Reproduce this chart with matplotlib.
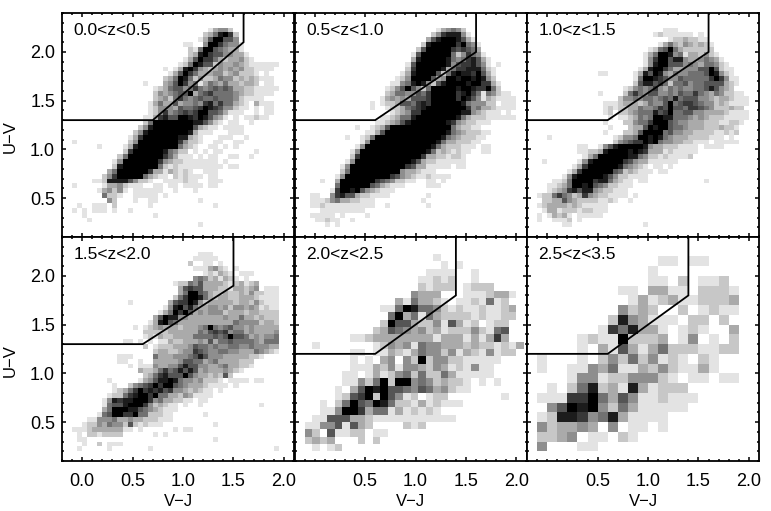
import matplotlib
matplotlib.use('Agg')
import matplotlib.pyplot as plt
import numpy as np
from matplotlib.ticker import MultipleLocator

plt.rcParams['font.family'] = ['Liberation Sans', 'DejaVu Sans']

# grey level of every histogram cell, 0 = empty .. 9 = black, top row first
rows_z00 = [
    "", "", "",
    ".............................13442",
    "............................2358972",
    "...........................13699664",
    "........................11..49975441",
    ".........................21599654331",
    ".........................238976644331",
    "........................13697753233421",
    ".......................12598662433432111111",
    "....................1.13897432343434221111",
    ".....................136975333442342221.1",
    "....................2359852422354423232111",
    "................1...3469745135435332332.11",
    "..................1235664575456565332211111",
    "..................243456693567555543221111",
    "..................2342575456556555421111",
    ".................13533634454785755321.3111",
    ".................12444365567987644211.1.11",
    ".................1247456767996653111..1.11",
    "................11378669987986431.1.11211",
    "................2599999999886421.11..1",
    "...............2489999999963211.1111",
    "..............2489999999983111...111",
    ".............137999999988321...111..1",
    "..1..........249999999974221..11..11",
    ".......1....138999999995321..11.1.1",
    "............2799999985422.1.1.11......1",
    "...........259999999753111.1.11..11..1",
    "..........14999999974322111111 1.1",
    "..........2899999995212111111111.11",
    ".........35999999733132121..111",
    "........2479999953211.212111.11",
    "......112888864221..1111211..111",
    "..1.....13342111..11.11.1111.11",
    ".......134241.111111..1...1",
    "........5221..11111.1",
    ".........42...1..11........1",
    "...1..111.2......1............1",
    "..1.1.111.1..1",
    "....1.............1",
    ".....1",
    "...........................1",
]

rows_z05 = [
    "", "", "",
    "............................134542",
    "...........................24788841",
    "..........................3689998631",
    ".........................289999979541",
    "........................2699999767653",
    ".......................169999995247541",
    ".......................3899999854578631",
    "......................16999999846778641.1",
    "......................279999983577888521",
    ".....................1389999625898879631",
    "....................12499996349989989842",
    "...................1145898426899998997731",
    "..................12469642599999899877952",
    "..................2355446579999978975154211",
    ".................134343666799999798641321111",
    "...............1.12236657879999998544422.111",
    "...............1..12235678999999997453321111",
    "...................1234779999999988432111.1",
    ".................112355899999999853222111111",
    "................11234689999999874322111",
    "............1..1236999999999999532211",
    "..............11369999999999998 54322211",
    "..........1..125999999999999 9854322211",
    ".............149999999999999853322211",
    "............149999999999999853222111.11",
    "...........149999999999999852321211..11",
    "...........27999999999999733221221",
    "..........149999999999986322111111",
    ".........1499999999999763311111.11",
    ".........2599999999994332111",
    "........14999999999764321121111",
    ".....1..399999997654 2211..11.1",
    "........59999996532111....111",
    ".......17998964321 11",
    "...11..47866322111 1.......1",
    "...11124533221 11.........1",
    "...11211111111 11..1.......1",
    ".....111111111",
    "...11111.1....1",
    "....11211..1",
    "......1.1",
]

rows_z10 = [
    "", "", "",
    "...........................111",
    ".........................12111111.1",
    "............................12232211",
    "..........................13532432321",
    "........................1256953222222",
    ".......................135998451332421",
    ".......................1479968843345431",
    ".......................14899666454355421",
    "......................1389975334446696211",
    "..............11.....13869843544555698421",
    ".....................159987644655555797411",
    ".....................268867525564556666321",
    "...................1245457435454455686432",
    "..............1....257546644546557543542211",
    "..................24454554565856664432332111",
    "...............11123332354469567765442321111",
    "...............1212233544576966577654222322",
    "...............12.22345558679556644333321111",
    "................1.11235459988555434322211111",
    "...............1...224557999654433322211221",
    "................1...2336989965543332223221",
    "...............1...22369999564433222211212",
    "....1............1244599898543332222111.1",
    ".................2456779895443322111.11111",
    "..........11..14689999984332221111.1111",
    "..........112238999989873331211111",
    "...........1359999998854221211112",
    "...1......14899999976433111111",
    ".........137999999854321.11.1",
    "........13799999965232111.11",
    ".......14899999864221111",
    ".....11259999788532 11.11...........1",
    "....11235998965422111",
    "....1234786884322111",
    "..122575423743221111.1",
    "...223364322221121..1",
    "..12333323211111",
    "...1331222122111",
    "..1.13231.11111",
    "..1..1112.1",
    ".......11..............1",
]

rows_z15 = [
    "", "", "",
    "...........................111",
    "..........................11111",
    ".........................2..11.1",
    "..........................1113421.1",
    "............................121321.111",
    "..........................454231321.1",
    "......................12254633332123123",
    ".......................3676633322133234.111",
    ".......................35996532232232422111",
    "......................257998532332233321111",
    ".............1.......3677984233333233242111",
    "....................14896853344342443431211",
    "...................135979634344423332332222",
    "..................3698844333333343353323222",
    ".................13896533333333333544442332",
    "..............1.123433323334595456443433333",
    "................222223333335467674553433334",
    "................121322333355556569665343445",
    "............11.1.1.113223334363556555543555",
    "................2.1222333465545445544544433",
    "..................2332234476544554433354321",
    "...........111....5333444568644433333221",
    "...........11..1..33333466553453333222",
    ".............1.11143344686644334533221",
    "...............322357568686343334321",
    "................235786669643323262",
    ".........1.....13468898544342221.1111.11",
    "..........1..24567979965433321111.1",
    "..........12357978786744323211.1",
    ".........122578997955332431111",
    "........148788999745332211.11",
    "........156689997423211.1..1...........1",
    "........359998865432111",
    ".......156997795522211......1",
    ".....11444533433222111",
    "....1224354426212111..........1",
    "..111233333311.1......1.11",
    "...1.2212222......1.1",
    "...11.........................1",
    "....1..2.111",
    "...1.....1.......1........................1",
]

rows_z20 = [
    ".................1",
    "..................1.1",
    "................1111..1",
    "...............11212..1",
    "...............21222.1222",
    "..............4333...1112331",
    "............3153321.1121512",
    "..........115985542121121123",
    "...........59351532222121122",
    "..........2966322416312.122",
    ".........236543423122242156",
    "......112333333331333131373",
    ".1.......12434154433323221213",
    "......11.1132135442413214122",
    "......1.1.34.4292442211111",
    "......1113241443243121411",
    ".....11.13124525225311111",
    ".....11425929945423221.1.1",
    "....1.3698966546534211",
    "....12679296412.122.......1",
    "..1.25965985221312111",
    "..1149973551312121",
    ".1166633211111111111",
    "114461632....212",
    "42.61122.11",
    "2323...2.2",
    ".1.12",
]

rows_z25 = [
    "............11.11",
    "...........1",
    "...........11.2.112",
    "........11.3311.2221",
    ".........13123112223",
    "........4232..2.1211",
    ".......2843111.22.2",
    "......1758331.121..3",
    "....121192223.14.1.2",
    "....1.31631352221122",
    "1...1.242524121.21",
    "1..114351132421131",
    "...14412244421.11.11",
    ".1.258231831222",
    "1117795364112111",
    ".46989425311111",
    "1288745831111",
    "423343.4.11.1",
    "2234.11.21",
    "4...11",
]

panel_rows = [rows_z00, rows_z05, rows_z10, rows_z15, rows_z20, rows_z25]
panel_labels = ['0.0<z<0.5', '0.5<z<1.0', '1.0<z<1.5', '1.5<z<2.0', '2.0<z<2.5', '2.5<z<3.5']
bin_sizes = [0.05, 0.05, 0.05, 0.05, 0.075, 0.1]
x_starts = [-0.2, -0.2, -0.2, -0.2, -0.1, -0.1]
y_tops = [2.4, 2.4, 2.4, 2.4, 2.225, 2.2]
cut_x = [[-0.2, 0.7, 1.6, 1.6], [-0.2, 0.6, 1.6, 1.6], [-0.2, 0.6, 1.6, 1.6],
         [-0.2, 0.6, 1.5, 1.5], [-0.2, 0.6, 1.4, 1.4], [-0.2, 0.6, 1.4, 1.4]]
cut_y = [[1.3, 1.3, 2.1, 2.4], [1.3, 1.3, 2.0, 2.4], [1.3, 1.3, 2.0, 2.4],
         [1.3, 1.3, 1.9, 2.4], [1.2, 1.2, 1.8, 2.4], [1.2, 1.2, 1.8, 2.4]]

fig = plt.figure(figsize=(7.71, 5.11), dpi=100)
W, H = 771.0, 511.0
lefts = [62, 294.5, 527]
tops = [13, 237]

for i in range(6):
    ax = fig.add_axes([lefts[i % 3] / W, 1 - (tops[i // 3] + 224) / H, 232 / W, 224 / H])
    rows = [r.replace(' ', '') for r in panel_rows[i]]
    ncol = max(len(r) for r in rows)
    grid = np.array([[int(c) if c != '.' else 0 for c in r.ljust(ncol, '.')] for r in rows])
    b = bin_sizes[i]
    xe = x_starts[i] + b * np.arange(ncol + 1)
    ye = y_tops[i] - b * np.arange(len(grid) + 1)
    ax.pcolormesh(xe, ye, grid, cmap='gray_r', vmin=0, vmax=9, antialiased=False, linewidth=0)
    ax.plot(cut_x[i], cut_y[i], color='k', lw=1.3, solid_joinstyle='miter')
    ax.set_xlim(-0.2, 2.1)
    ax.set_ylim(0.1, 2.4)
    ax.xaxis.set_major_locator(MultipleLocator(0.5))
    ax.xaxis.set_minor_locator(MultipleLocator(0.1))
    ax.yaxis.set_major_locator(MultipleLocator(0.5))
    ax.yaxis.set_minor_locator(MultipleLocator(0.1))
    ax.tick_params(which='major', direction='in', top=True, right=True, length=3.2, width=1.1, labelsize=13)
    ax.tick_params(which='minor', direction='in', top=True, right=True, length=1.6, width=1.1)
    ax.tick_params(axis='x', which='major', pad=8.7)
    ax.tick_params(axis='y', which='major', pad=5)
    for s in ax.spines.values():
        s.set_linewidth(1.3)
    ax.text(0.05, 0.924, panel_labels[i], transform=ax.transAxes, fontsize=12.5, ha='left', va='center')
    if i % 3 == 0:
        ax.set_ylabel('U\u2212V', fontsize=12, va='center')
        ax.yaxis.set_label_coords(-52 / 232, 0.45)
    else:
        ax.tick_params(labelleft=False)
    if i >= 3:
        ax.set_xlabel('V\u2212J', fontsize=12, va='center')
        ax.xaxis.set_label_coords(0.5, -0.179)
        if i > 3:
            ax.set_xticks([0.5, 1.0, 1.5, 2.0])
            ax.set_xticks(np.arange(-0.1, 2.05, 0.1), minor=True)
    else:
        ax.tick_params(labelbottom=False)

fig.savefig('out.png', dpi=100)
